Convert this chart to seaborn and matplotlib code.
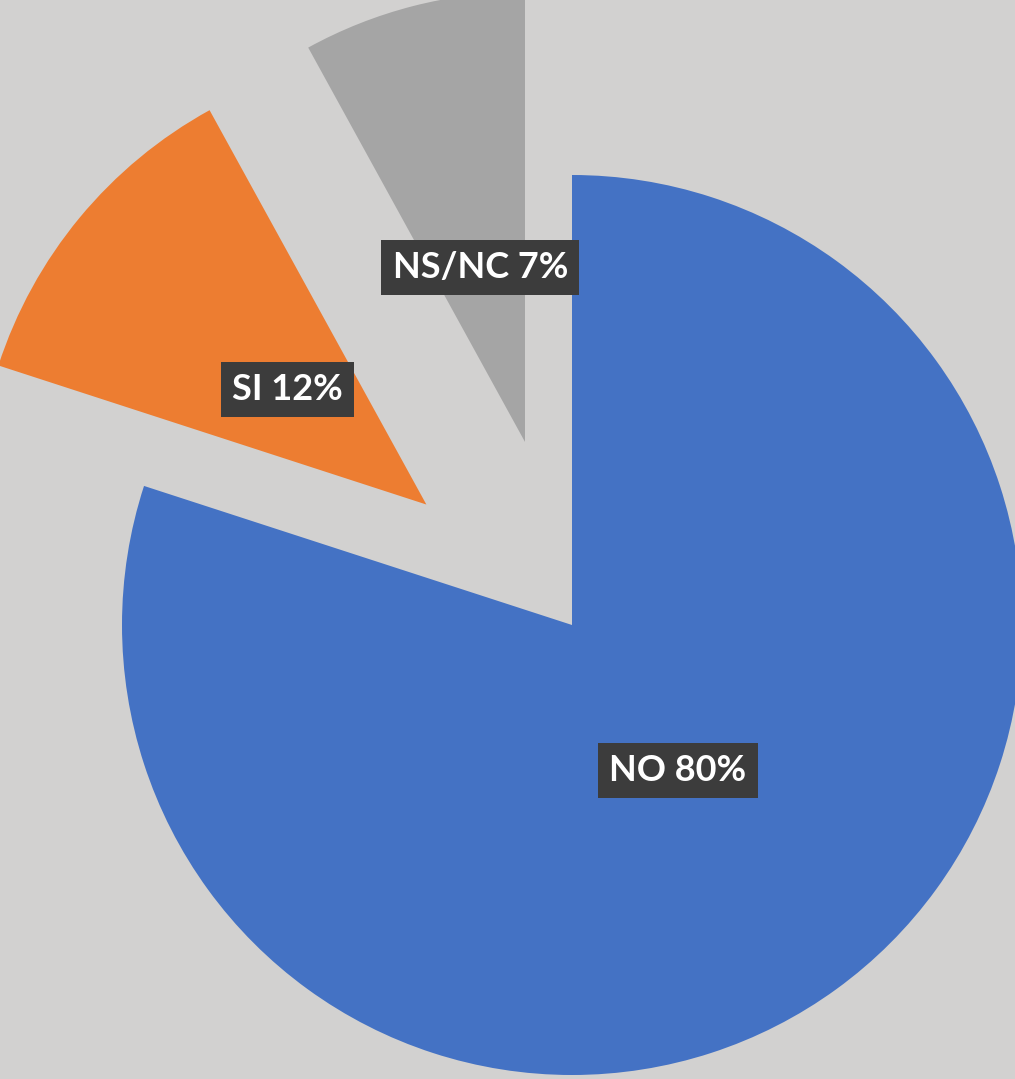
import matplotlib
matplotlib.use("Agg")
import matplotlib.pyplot as plt
import seaborn as sns

# slice data, clockwise from the top
categories = ["NO", "SI", "NS/NC"]
shares = [80.0, 12.0, 8.0]
pct_labels = ["80%", "12%", "7%"]
explode = [0.0, 0.42, 0.42]
colors = ["#4472c4", "#ed7d31", "#a5a5a5"]

sns.set_theme(style="white")
plt.rcParams["font.family"] = ["Lato", "DejaVu Sans"]

bg = "#d2d1d0"
fig = plt.figure(figsize=(10.15, 10.79), dpi=100, facecolor=bg)
ax = fig.add_axes([0, 0, 1, 1])
ax.set_facecolor(bg)

labels = [f"{c} {p}" for c, p in zip(categories, pct_labels)]
wedges, texts = ax.pie(
    shares,
    labels=labels,
    colors=colors,
    explode=explode,
    startangle=90,
    counterclock=False,
    labeldistance=0.4,
    radius=1.0,
    wedgeprops={"linewidth": 0},
)

for t in texts:
    t.set_ha("center")
    t.set_va("center")
    t.set_color("white")
    t.set_fontsize(26)
    t.set_fontweight("bold")
    t.set_bbox({"facecolor": "#3c3c3c", "edgecolor": "none", "pad": 8})

# crop the view so the big slice runs off the right and bottom edges
r_px = 450
ax.set_xlim(-572 / r_px, (1015 - 572) / r_px)
ax.set_ylim(-(1079 - 625) / r_px, 625 / r_px)
ax.set_aspect("equal")
ax.axis("off")

fig.savefig("out.png", dpi=100, facecolor=bg)
plt.close()
